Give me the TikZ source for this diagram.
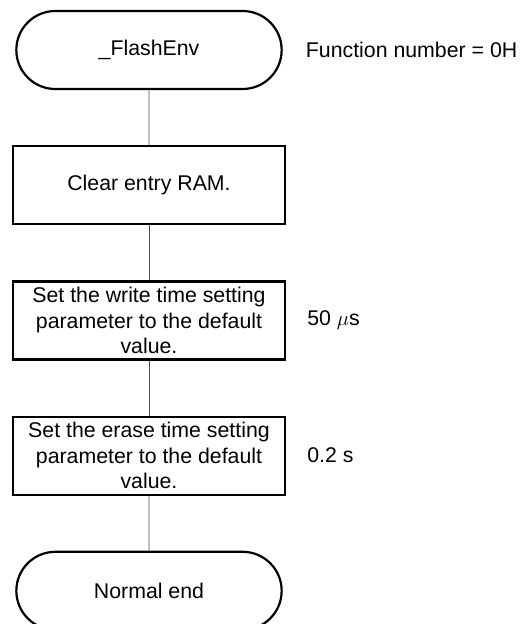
\documentclass[tikz,border=0pt]{standalone}
\usepackage{fontspec}
\setmainfont{Liberation Sans}
\usetikzlibrary{positioning,shapes.misc}

\begin{document}
\begin{tikzpicture}[node distance=55pt and 21pt,every node/.style={font=\fontsize{21.3}{25.5}\selectfont},
  term/.style={draw,line width=2.2pt,rounded rectangle,minimum width=272pt,minimum height=78pt},
  proc/.style={draw,line width=2.2pt,align=center,minimum width=272pt,minimum height=78pt,inner sep=0pt},
  note/.style={inner sep=0pt},link/.style={draw=black!70,line width=0.8pt}]
\useasboundingbox (0,0) rectangle (521pt,-624pt);
\node[term] (start) at (149pt,-50pt) {\_FlashEnv};
\node[proc,below=of start] (clr) {Clear entry RAM.};
\node[proc,below=of clr] (wrt) {Set the write time setting\\parameter to the default\\value.};
\node[proc,below=of wrt] (ers) {Set the erase time setting\\parameter to the default\\value.};
\node[term,below=of ers] (stop) {Normal end};
\node[note,right=23pt of start] (fnum) {Function number = 0H};
\node[note,right=of wrt] (wtime) {50 $\mu$s};
\node[note,right=of ers] (etime) {0.2 s};
\draw[link] (start) -- (clr); \draw[link] (clr) -- (wrt);
\draw[link] (wrt) -- (ers); \draw[link] (ers) -- (stop);
\end{tikzpicture}
\end{document}
